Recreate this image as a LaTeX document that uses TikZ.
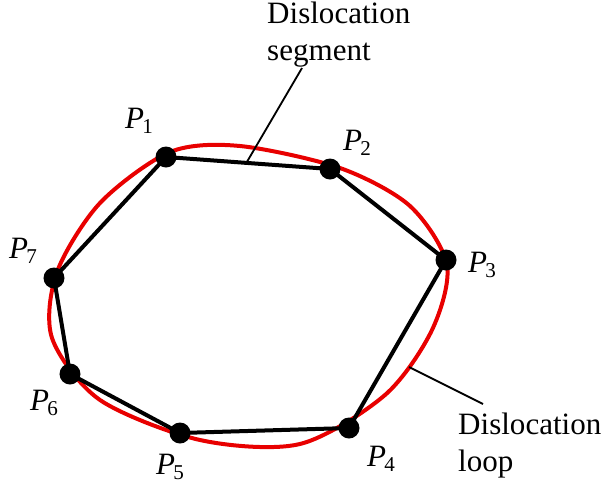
\documentclass[tikz,border=0pt]{standalone}
\usepackage{fontspec}
\setmainfont{Liberation Serif}
\usetikzlibrary{positioning,calc}
\definecolor{loopred}{RGB}{232,0,0}

\newcommand{\plab}[1]{{\fontsize{26.5}{26.5}\selectfont\itshape P}\kern-1.5pt\raisebox{-0.85ex}{\fontsize{18}{18}\selectfont #1}}

\begin{document}
\begin{tikzpicture}[x=0.03cm, y=-0.03cm,
  vertex/.style={circle, fill=black, inner sep=0pt, minimum size=0.63cm},
  seg/.style={line width=0.12cm},
  loopline/.style={loopred, line width=0.12cm},
  leader/.style={line width=0.055cm},
  plabel/.style={inner sep=0pt},
  caption/.style={align=left, inner sep=0pt, font=\fontsize{26.5}{31.5}\selectfont},
]
  \useasboundingbox (0,0) rectangle (607,495);

  % the dislocation loop
  \draw[loopline] plot[smooth cycle] coordinates {
    (240,146) (340,168) (410,206) (447,265) (432,330) (385,395)
    (300,444) (200,440) (100,400) (52,338) (57,272) (100,203) (170,152)};

  % the points
  \node[vertex] (p1) at (166,157) {};
  \node[vertex] (p2) at (330,169) {};
  \node[vertex] (p3) at (446,260) {};
  \node[vertex] (p4) at (349,428) {};
  \node[vertex] (p5) at (180,433) {};
  \node[vertex] (p6) at (70,374) {};
  \node[vertex] (p7) at (54,278) {};

  \draw[seg] (p1.center) -- (p2.center) -- (p3.center) -- (p4.center)
    -- (p5.center) -- (p6.center) -- (p7.center) -- cycle;

  \node[plabel] (l1) at (139,121) {\plab{1}};
  \node[plabel] (l2) at (357,143) {\plab{2}};
  \node[plabel] (l3) at (482,265) {\plab{3}};
  \node[plabel] (l4) at (381,459) {\plab{4}};
  \node[plabel] (l5) at (170,467) {\plab{5}};
  \node[plabel] (l6) at (44,403) {\plab{6}};
  \node[plabel] (l7) at (23,251) {\plab{7}};

  % captions and leaders
  \node[caption, anchor=north west] (segtext) at (267,2) {Dislocation\\segment};
  \node[caption, anchor=north west] (looptext) at (458,413) {Dislocation\\loop};

  \coordinate (segtop) at (302,68);
  \coordinate (segpt) at ($(p1)!0.49!(p2)$);
  \coordinate (looptop) at (483,404);
  \coordinate (looppt) at (409,367);
  \draw[leader] (segtop) -- (segpt);
  \draw[leader] (looptop) -- (looppt);
\end{tikzpicture}
\end{document}
